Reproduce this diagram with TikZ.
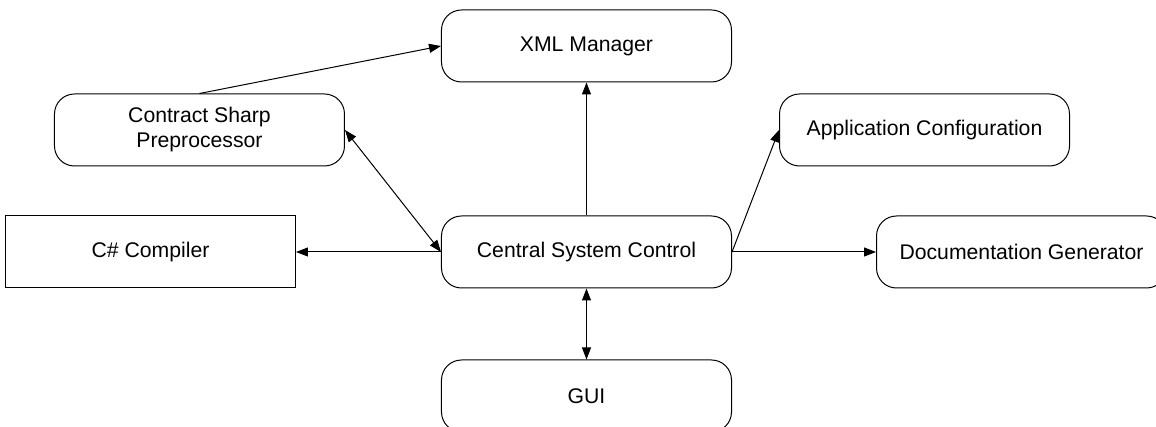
\documentclass[tikz,border=0pt]{standalone}
\usepackage{fontspec}
\setmainfont{Liberation Sans}
\usepackage{tikz}
\usetikzlibrary{arrows.meta}
\usetikzlibrary{shapes,positioning}
\tikzset{module-line/.style={line width=0.5pt}}
\tikzset{>={Triangle[length=6pt,width=4.5pt]}}
\tikzset{module-node/.style={draw, line width=0.5pt, inner sep=0, minimum width=145pt, minimum height=36pt, rounded corners=10pt, align=center, font=\fontsize{10.6}{12.5}\selectfont}}
\tikzset{module-box/.style={module-node, rounded corners=0pt}}

\begin{document}
\begin{tikzpicture}[]
            \useasboundingbox (-293.25pt,-87.5pt) rectangle (284.75pt,126pt);

            \node[module-node] (central) {Central System Control};

            \node[module-node, above=66.5pt of central] (xml) {XML Manager};
            \node[module-node, below=35.5pt of central] (gui) {GUI};
            \node[module-box, left=72.5pt of central] (compiler) {C\# Compiler};
            \node[module-node, right=72pt of central] (docgen) {Documentation Generator};

            \node[module-node, above left=24.5pt and 48pt of central] (preproc) {Contract Sharp\\Preprocessor};
            \node[module-node, above right=24.5pt and 23.5pt of central] (appconfig) {Application Configuration};

            \draw[->, module-line] (preproc.north) -- (xml.west);
            \draw[->, module-line] (central.north) -- (xml.south);
            \draw[<->, module-line] (preproc.east) -- (central.west);

            \draw[->, module-line] (central.west) -- (compiler.east);
            \draw[->, module-line] (central.east) -- (docgen.west);
            \draw[->, module-line] (central.east) -- (appconfig.west);

            \draw[<->, module-line] (central.south) -- (gui.north);

        \end{tikzpicture}
\end{document}
